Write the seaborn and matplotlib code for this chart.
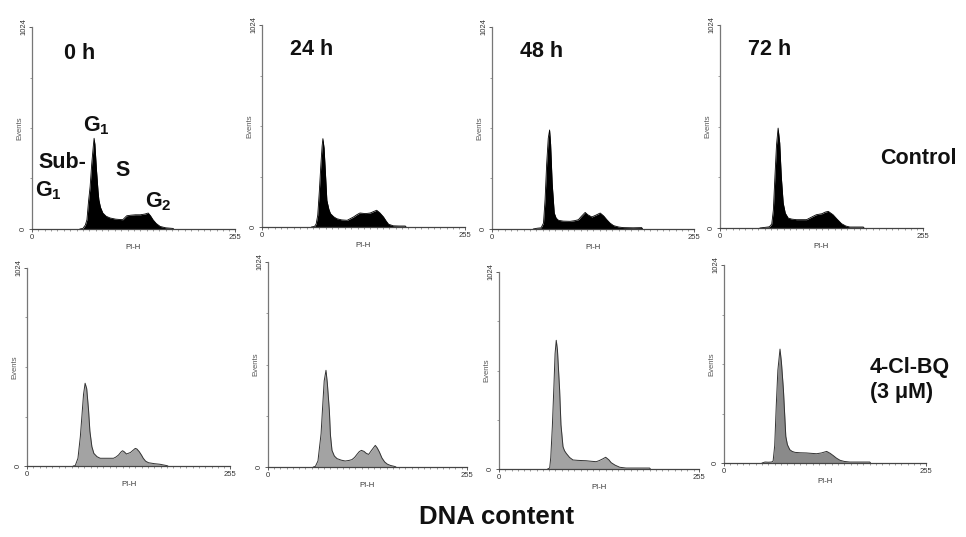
import matplotlib
matplotlib.use("Agg")
import matplotlib.pyplot as plt
import seaborn as sns
import numpy as np

sns.set_theme(style="white")
plt.rcParams['font.family'] = ['Liberation Sans', 'DejaVu Sans']
plt.rcParams['mathtext.fontset'] = 'custom'
plt.rcParams['mathtext.rm'] = 'Liberation Sans'
plt.rcParams['mathtext.bf'] = 'Liberation Sans:bold'
plt.rcParams['mathtext.it'] = 'Liberation Sans:italic'

# ---------------- data (PI-H channel, events) ----------------
time_labels = ["0 h", "24 h", "48 h", "72 h"]
row_labels = ["Control", "4-Cl-BQ\n(3 μM)"]

ctrl_0h_x = [60, 64, 67, 69, 71, 73, 75, 77, 78, 79, 81, 83, 84, 86, 89, 93, 98, 105, 114, 119, 124, 130, 136, 142, 146, 149, 152, 156, 161, 168, 177, 178]
ctrl_0h_y = [0, 3, 20, 47, 140, 215, 330, 420, 460, 430, 300, 190, 148, 110, 81, 65, 56, 50, 47, 67, 70, 72, 72, 76, 81, 66, 47, 28, 13, 6, 3, 0]

ctrl_24h_x = [62, 66, 68, 70, 72, 74, 75.5, 76.5, 78, 80, 81.5, 84, 86, 90, 94, 100, 107, 115, 119, 123, 130, 136, 140, 144, 148, 152.6, 156, 159, 165, 172, 180, 181]
ctrl_24h_y = [0, 3, 15, 60, 180, 320, 410, 448, 400, 250, 135, 90, 68, 52, 42, 36, 34, 51, 62, 71, 68, 71, 78, 85, 72, 51, 30, 14, 6, 5, 5, 0]

ctrl_48h_x = [52, 57, 62, 65, 67, 69, 71, 72.7, 74, 76, 78.6, 81, 84, 90, 98.7, 104, 109, 113, 117.6, 121, 126, 131, 136.6, 141, 145, 149, 153.5, 160, 166, 178, 189, 190]
ctrl_48h_y = [0, 4, 6, 30, 150, 330, 460, 502, 430, 230, 81, 55, 44, 40, 39, 42, 47, 65, 84, 72, 61, 70, 81, 66, 47, 30, 17, 10, 7, 6, 7, 0]

ctrl_72h_x = [50, 56, 62, 65, 67, 69, 71, 73, 75, 77, 79.4, 82, 85.7, 90, 96, 102, 108.7, 115, 121, 128, 132, 136, 142, 147, 152.6, 158, 163, 172, 180, 181]
ctrl_72h_y = [0, 3, 6, 20, 90, 260, 420, 504, 430, 260, 126, 75, 50, 45, 42, 42, 42, 55, 67, 72, 80, 84, 67, 45, 22, 10, 5, 5, 5, 0]

trt_0h_x = [58, 60.6, 64, 67, 69, 71, 73, 75, 77.3, 79, 81.5, 84, 88, 92, 100, 108.7, 112, 115, 118, 120, 122, 125, 130, 134, 136, 138, 141, 144, 146, 149, 152.6, 160, 167, 175.6, 177]
trt_0h_y = [0, 2, 40, 152, 260, 370, 428, 400, 290, 180, 100, 65, 48, 40, 40, 40, 47, 57, 72, 79, 74, 62, 70, 84, 91, 88, 74, 55, 40, 25, 17, 12, 9, 2, 0]

trt_24h_x = [58, 60.7, 64, 68, 70, 72, 74.3, 76, 78.6, 80, 82, 85, 88.4, 94, 99, 104, 107.6, 111, 114, 117, 119.7, 123, 126, 129, 133, 137.5, 140, 142.7, 146, 149.5, 153, 156.8, 163, 164]
trt_24h_y = [0, 3, 30, 166, 300, 430, 483, 420, 283, 160, 83, 55, 42, 34, 30, 33, 37, 48, 63, 77, 83, 78, 68, 63, 85, 108, 95, 75, 45, 25, 14, 8, 2, 0]

trt_48h_x = [62, 64.6, 66, 68, 70, 71.5, 73, 74.5, 77.3, 79, 81.6, 83.5, 85.8, 90, 94.3, 100, 105, 111, 118, 124, 128, 132, 136, 140, 143, 148, 154, 162, 175, 185, 192, 193]
trt_48h_y = [0, 5, 60, 220, 430, 600, 669, 620, 410, 230, 116, 95, 81, 60, 47, 45, 44, 43, 40, 38, 44, 52, 61, 48, 33, 20, 9, 5, 5, 5, 5, 0]

trt_72h_x = [48, 51.8, 56, 60, 62, 64, 66, 68, 70.7, 72.5, 75, 78, 80, 83, 86, 89.6, 96, 104, 110, 117, 123, 129.6, 134, 138, 142, 146.5, 152, 159, 170, 184, 185]
trt_72h_y = [0, 5, 4, 5, 10, 90, 300, 480, 589, 520, 379, 138, 95, 69, 60, 55, 53, 52, 50, 48, 52, 60, 50, 38, 25, 14, 8, 5, 5, 5, 0]

control_x = [ctrl_0h_x, ctrl_24h_x, ctrl_48h_x, ctrl_72h_x]
control_y = [ctrl_0h_y, ctrl_24h_y, ctrl_48h_y, ctrl_72h_y]
treated_x = [trt_0h_x, trt_24h_x, trt_48h_x, trt_72h_x]
treated_y = [trt_0h_y, trt_24h_y, trt_48h_y, trt_72h_y]

# ---------------- layout (pixel boxes: left, right, top, bottom) ----------------
W, H = 966, 537
boxes_top = [(32, 235, 27, 229), (262, 465, 25, 227), (492, 694, 27, 229), (720, 923, 25, 228)]
boxes_bot = [(27, 230, 268, 466), (268, 467, 262, 467), (499, 699, 272, 469), (724, 926, 265, 463)]

fig = plt.figure(figsize=(W / 100, H / 100), dpi=100)
fig.patch.set_facecolor("white")


def make_ax(box):
    l, r, t, b = box
    return fig.add_axes([l / W, 1 - b / H, (r - l) / W, (b - t) / H])


def style_ax(ax):
    ax.set_xlim(0, 255)
    ax.set_ylim(0, 1024)
    ax.set_facecolor("white")
    for s in ["top", "right"]:
        ax.spines[s].set_visible(False)
    ax.spines["left"].set_color("#777777")
    ax.spines["left"].set_linewidth(0.9)
    ax.spines["bottom"].set_color("#444444")
    ax.spines["bottom"].set_linewidth(0.9)
    ax.set_xticks([0, 255])
    ax.set_xticklabels(["0", "255"], fontsize=5.5, color="#333333")
    ax.set_xticks(np.arange(0, 256, 8), minor=True)
    ax.set_yticks([0, 1024])
    ax.set_yticklabels(["0", "1024"], fontsize=5.5, color="#333333", rotation=90, va="center")
    ax.set_yticks([256, 512, 768], minor=True)
    ax.tick_params(axis="both", which="major", length=2, width=0.6, pad=1.5,
                   direction="out", color="#444444", bottom=True, left=True)
    ax.tick_params(axis="both", which="minor", length=1.5, width=0.5,
                   direction="out", color="#777777", bottom=True, left=True)
    ax.set_xlabel("PI-H", fontsize=5.5, color="#333333", labelpad=2)
    ax.set_ylabel("Events", fontsize=5.5, color="#555555", labelpad=-2)
    ax.grid(False)


BIG = dict(fontsize=15.5, fontweight="bold", color="#111111")

for i in range(4):
    ax = make_ax(boxes_top[i])
    sns.lineplot(x=control_x[i], y=control_y[i], ax=ax, color="black", linewidth=0.6)
    ax.fill_between(control_x[i], control_y[i], 0, color="black", linewidth=0)
    style_ax(ax)
    ax.text(0.16 if i == 0 else 0.14, 0.88 if i else 0.87, time_labels[i], transform=ax.transAxes,
            ha="left", va="center", **BIG)

    ax2 = make_ax(boxes_bot[i])
    fill = "#8a8a8a" if i == 3 else "#a3a3a3"
    ax2.fill_between(treated_x[i], treated_y[i], 0, color=fill, linewidth=0)
    sns.lineplot(x=treated_x[i], y=treated_y[i], ax=ax2, color="#333333", linewidth=0.7)
    style_ax(ax2)

    if i == 0:
        ax.text(0.32, 0.51, r"$\mathbf{G_1}$", transform=ax.transAxes,
                ha="center", va="center", **BIG)
        ax.text(0.15, 0.33, "Sub-", transform=ax.transAxes,
                ha="center", va="center", **BIG)
        ax.text(0.08, 0.19, r"$\mathbf{G_1}$", transform=ax.transAxes,
                ha="center", va="center", **BIG)
        ax.text(0.445, 0.29, "S", transform=ax.transAxes,
                ha="center", va="center", **BIG)
        ax.text(0.62, 0.135, r"$\mathbf{G_2}$", transform=ax.transAxes,
                ha="center", va="center", **BIG)

fig.text(880 / W, 1 - 158 / H, row_labels[0], ha="left", va="center", **BIG)
fig.text(870 / W, 1 - 380 / H, row_labels[1], ha="left", va="center", linespacing=1.3, **BIG)
fig.text(497 / W, 1 - 517 / H, "DNA content", fontsize=18.5, fontweight="bold",
         color="#111111", ha="center", va="center")

fig.savefig("out.png", dpi=100, facecolor="white")
